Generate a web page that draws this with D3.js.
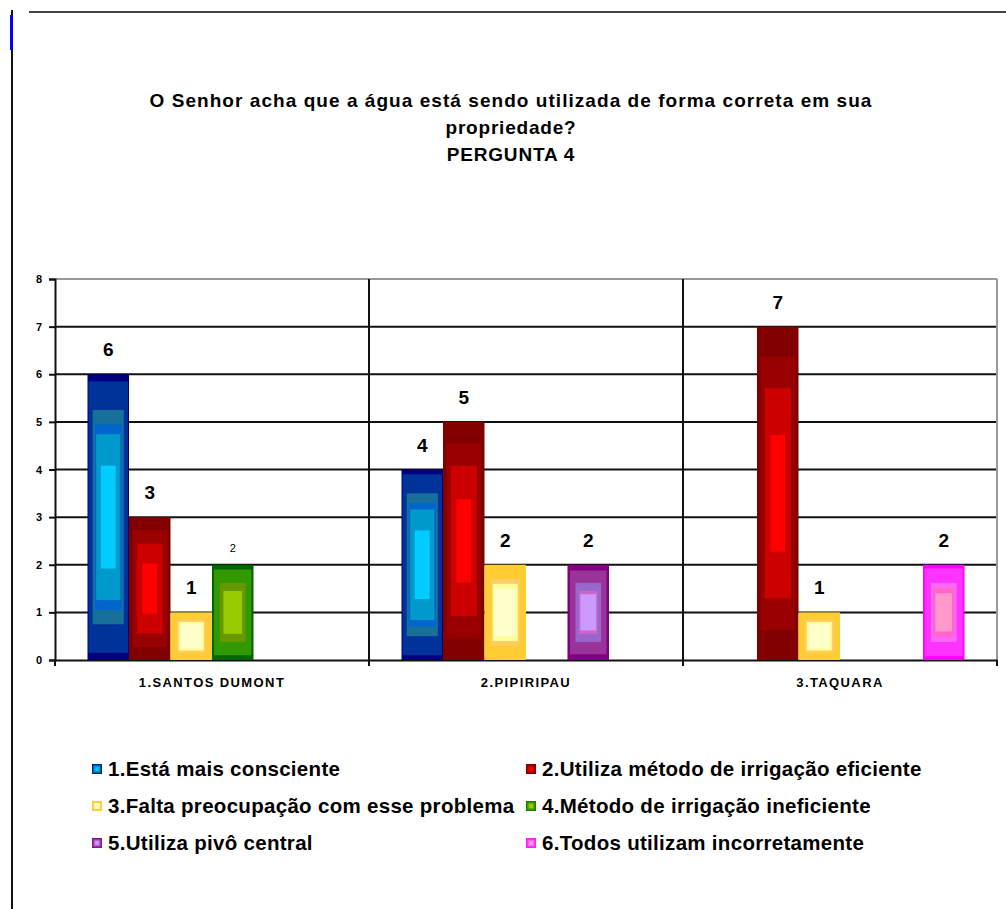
<!DOCTYPE html>
<html><head><meta charset="utf-8">
<script src="https://cdn.jsdelivr.net/npm/d3@7"></script>
<style>body{margin:0;background:#fff} text{font-family:"Liberation Sans",Arial,sans-serif}</style>
</head><body>
<svg id="c" width="1006" height="909"></svg>
<script>
// ---- data ----
const categories = ["1.SANTOS DUMONT", "2.PIPIRIPAU", "3.TAQUARA"];
const seriesNames = ["1.Está mais consciente", "2.Utiliza método de irrigação eficiente",
  "3.Falta preocupação com esse problema", "4.Método de irrigação ineficiente",
  "5.Utiliza pivô central", "6.Todos utilizam incorretamente"];
const serie1 = [6, 4, 0];
const serie2 = [3, 5, 7];
const serie3 = [1, 2, 1];
const serie4 = [2, 0, 0];
const serie5 = [0, 2, 0];
const serie6 = [0, 0, 2];
const yTickValues = [0, 1, 2, 3, 4, 5, 6, 7, 8];
const titleLines = ["O Senhor acha que a água está sendo utilizada de forma correta em sua", "propriedade?", "PERGUNTA 4"];

const seriesValues = [serie1, serie2, serie3, serie4, serie5, serie6];

// ---- style: rectangular step gradients (fraction of half-size inset, color) ----
const bands = [
  [[0, "#000080"], [0.05, "#003399"], [0.25, "#17709a"], [0.35, "#0066cc"], [0.42, "#0099cc"], [0.64, "#00ccff"]],
  [[0, "#800000"], [0.18, "#990000"], [0.37, "#cc0000"], [0.65, "#ff0000"]],
  [[0, "#ffcc33"], [0.3, "#ffcc66"], [0.4, "#ffff99"], [0.5, "#ffffcc"]],
  [[0, "#006600"], [0.1, "#339900"], [0.38, "#669900"], [0.55, "#99cc00"]],
  [[0, "#800080"], [0.12, "#993399"], [0.38, "#9966cc"], [0.55, "#cc66cc"], [0.62, "#cc99ff"]],
  [[0, "#ff00ff"], [0.08, "#ff33ff"], [0.38, "#ff66ff"], [0.48, "#ff66cc"], [0.6, "#ff99cc"]]
];

const svg = d3.select("#c");
const M = {left: 55, right: 997, top: 279, bottom: 660};

// frame lines
svg.append("line").attr("x1", 29).attr("x2", 1006).attr("y1", 12).attr("y2", 12).attr("stroke", "#444").attr("stroke-width", 2);
svg.append("line").attr("x1", 12).attr("x2", 12).attr("y1", 10).attr("y2", 909).attr("stroke", "#111").attr("stroke-width", 2);
svg.append("line").attr("x1", 11.5).attr("x2", 11.5).attr("y1", 15).attr("y2", 50).attr("stroke", "#0000ff").attr("stroke-width", 3);

// title
svg.append("g").selectAll("text").data(titleLines).join("text")
  .attr("x", 511).attr("y", (d, i) => 107 + i * 27)
  .attr("text-anchor", "middle").attr("font-weight", "bold")
  .attr("font-size", 19).attr("letter-spacing", (d, i) => i === 0 ? 1.05 : 0.8)
  .text(d => d);

// scales
const x0 = d3.scaleBand().domain(categories).range([M.left, M.right]).paddingInner(0).paddingOuter(0);
const x1 = d3.scaleBand().domain(d3.range(6)).range([0, x0.bandwidth()]).paddingInner(0).paddingOuter(0.783);
const y = d3.scaleLinear().domain([0, 8]).range([M.bottom, M.top]);

// gridlines
const g = svg.append("g");
g.selectAll("line.grid").data(yTickValues.filter(v => v > 0 && v < 8)).join("line")
  .attr("x1", M.left).attr("x2", M.right).attr("y1", d => y(d)).attr("y2", d => y(d))
  .attr("stroke", "#111").attr("stroke-width", 2);
// border top / right gray
g.append("line").attr("x1", M.left).attr("x2", M.right).attr("y1", y(8)).attr("y2", y(8)).attr("stroke", "#999").attr("stroke-width", 2);
g.append("line").attr("x1", M.right).attr("x2", M.right).attr("y1", y(8)).attr("y2", M.bottom).attr("stroke", "#999").attr("stroke-width", 2);
// category dividers
g.selectAll("line.div").data(categories.slice(1)).join("line")
  .attr("x1", d => x0(d)).attr("x2", d => x0(d)).attr("y1", y(8)).attr("y2", M.bottom + 6)
  .attr("stroke", "#111").attr("stroke-width", 2);

// y axis
const yAxis = d3.axisLeft(y).tickValues(yTickValues).tickSize(6).tickPadding(7).tickFormat(d3.format("d"));
const ya = svg.append("g").attr("transform", `translate(${M.left},0)`).call(yAxis);
ya.select(".domain").attr("stroke", "#111").attr("stroke-width", 2);
ya.selectAll(".tick line").attr("stroke", "#111").attr("stroke-width", 2);
ya.selectAll(".tick text").attr("font-family", "Liberation Sans, Arial, sans-serif").attr("font-size", 11).attr("font-weight", "bold").attr("fill", "#000");

// x axis
const xa = svg.append("g").attr("transform", `translate(0,${M.bottom})`)
  .call(d3.axisBottom(x0).tickSize(0).tickPadding(18));
xa.select(".domain").attr("stroke", "#111").attr("stroke-width", 2);
xa.selectAll(".tick text").attr("font-family", "Liberation Sans, Arial, sans-serif").attr("font-size", 13).attr("font-weight", "bold")
  .attr("letter-spacing", 1.4).attr("fill", "#000");
svg.append("g").selectAll("line").data([M.left, ...categories.slice(1).map(c => x0(c)), M.right]).join("line")
  .attr("x1", d => d).attr("x2", d => d).attr("y1", M.bottom).attr("y2", M.bottom + 6)
  .attr("stroke", "#111").attr("stroke-width", 2);

// bars
const barData = [];
categories.forEach((c, ci) => {
  seriesValues.forEach((vals, si) => {
    if (vals[ci] > 0) barData.push({c, si, v: vals[ci]});
  });
});
const bars = svg.append("g").selectAll("g").data(barData).join("g");
bars.each(function (d) {
  const bx = x0(d.c) + x1(d.si), bw = x1.bandwidth();
  const by = y(d.v), bh = M.bottom - y(d.v);
  d3.select(this).selectAll("rect").data(bands[d.si]).join("rect")
    .attr("x", b => bx + b[0] * bw / 2).attr("width", b => bw * (1 - b[0]))
    .attr("y", b => by + b[0] * bh / 2).attr("height", b => bh * (1 - b[0]))
    .attr("fill", b => b[1]);
});
// value labels
svg.append("g").selectAll("text").data(barData).join("text")
  .attr("x", d => x0(d.c) + x1(d.si) + x1.bandwidth() / 2)
  .attr("y", d => (d.si === 3) ? y(d.v) - 13 : y(d.v) - 18)
  .attr("text-anchor", "middle")
  .attr("font-size", d => d.si === 3 ? 11 : 19)
  .attr("font-weight", d => d.si === 3 ? "normal" : "bold")
  .text(d => d.v);

// legend
const legPos = [[92, 769], [526, 769], [92, 806], [526, 806], [92, 843], [526, 843]];
const leg = svg.append("g").selectAll("g").data(seriesNames).join("g")
  .attr("transform", (d, i) => `translate(${legPos[i][0]},${legPos[i][1]})`);
leg.each(function (d, i) {
  d3.select(this).selectAll("rect").data(bands[i]).join("rect")
    .attr("x", b => b[0] * 5).attr("y", b => -5 + b[0] * 5)
    .attr("width", b => 10 * (1 - b[0])).attr("height", b => 10 * (1 - b[0]))
    .attr("fill", b => b[1]);
});
leg.append("text").attr("x", 16).attr("y", 7).attr("font-size", 20.5).attr("font-weight", "bold")
  .attr("letter-spacing", 0.3).text(d => d);
</script>
</body></html>
